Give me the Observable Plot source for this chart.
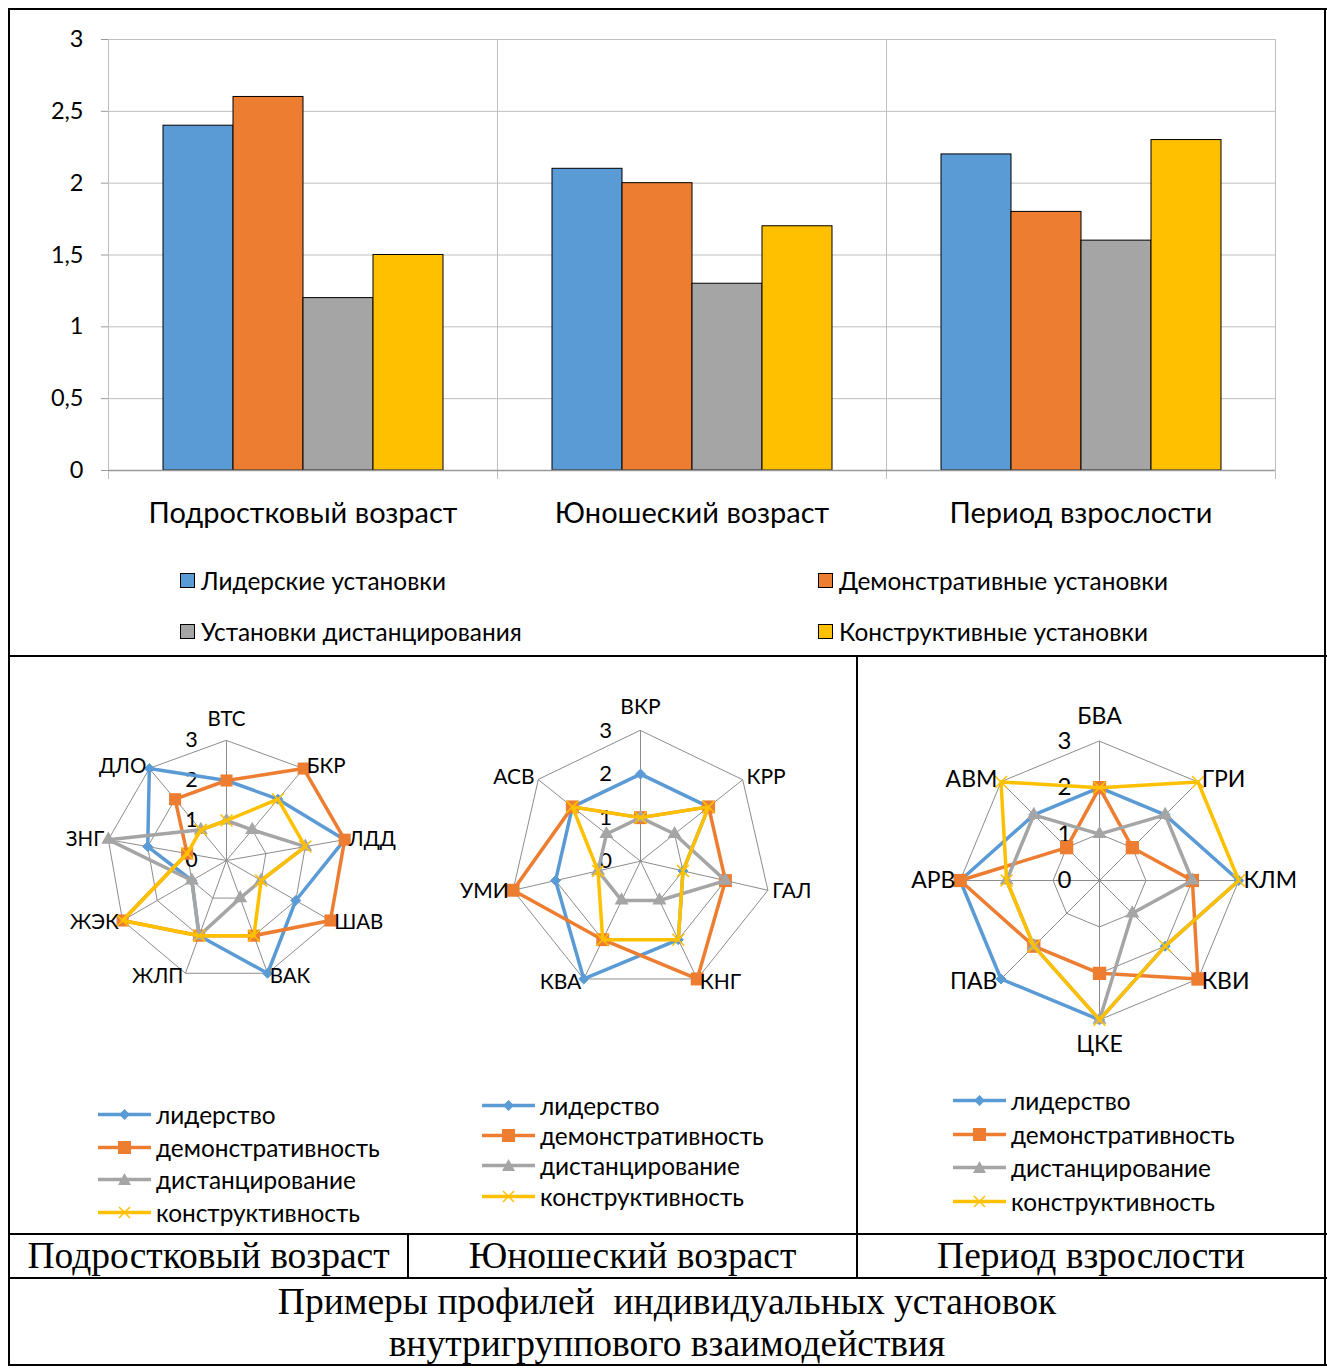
<!DOCTYPE html>
<html><head><meta charset="utf-8">
<script src="https://cdn.jsdelivr.net/npm/d3@7"></script>
<script src="https://cdn.jsdelivr.net/npm/@observablehq/plot@0.6"></script>
<style>
body{margin:0;background:#fff;}
#page{position:relative;width:1327px;height:1372px;background:#fff;font-family:Lato,"Open Sans",sans-serif;color:#000;overflow:hidden;}
.abs{position:absolute;}
.hl{position:absolute;height:2px;background:#000;}
.vl{position:absolute;width:2px;background:#000;}
.serif{font-family:"Liberation Serif","Times New Roman",serif;color:#000;}
.leg{position:absolute;display:flex;align-items:center;white-space:nowrap;}
</style></head>
<body><div id="page"></div>
<script>
// ---------- DATA ----------
const barGroups = ["Подростковый возраст", "Юношеский возраст", "Период взрослости"];
const barSeries = ["Лидерские установки", "Демонстративные установки", "Установки дистанцирования", "Конструктивные установки"];
const barLeader = [2.4, 2.1, 2.2];
const barDemo = [2.6, 2.0, 1.8];
const barDist = [1.2, 1.3, 1.6];
const barConstr = [1.5, 1.7, 2.3];
const barYTicks = [0, 0.5, 1, 1.5, 2, 2.5, 3];

const radarSeries = ["лидерство", "демонстративность", "дистанцирование", "конструктивность"];
const radarLevels = [1, 2, 3];
const radarTickLabels = [0, 1, 2, 3];

const teenAxes = ["ВТС", "БКР", "ЛДД", "ШАВ", "ВАК", "ЖЛП", "ЖЭК", "ЗНГ", "ДЛО"];
const teenLeader = [2, 2, 3, 2, 3, 2, 1, 2, 3];
const teenDemo   = [2, 3, 3, 3, 2, 2, 3, 1, 2];
const teenDist   = [1, 1, 2, 1, 1, 2, 1, 3, 1];
const teenConstr = [1, 2, 2, 1, 2, 2, 3, 1, 1];

const youthAxes = ["ВКР", "КРР", "ГАЛ", "КНГ", "КВА", "УМИ", "АСВ"];
const youthLeader = [2, 2, 1, 2, 3, 2, 2];
const youthDemo   = [1, 2, 2, 3, 2, 3, 2];
const youthDist   = [1, 1, 2, 1, 1, 1, 1];
const youthConstr = [1, 2, 1, 2, 2, 1, 2];

const adultAxes = ["БВА", "ГРИ", "КЛМ", "КВИ", "ЦКЕ", "ПАВ", "АРВ", "АВМ"];
const adultLeader = [2, 2, 3, 2, 3, 3, 3, 2];
const adultDemo   = [2, 1, 2, 3, 2, 2, 3, 1];
const adultDist   = [1, 2, 2, 1, 3, 2, 2, 2];
const adultConstr = [2, 3, 3, 2, 3, 2, 2, 3];

const periodLabels = ["Подростковый возраст", "Юношеский возраст", "Период взрослости"];
const captionLines = ["Примеры профилей  индивидуальных установок", "внутригруппового взаимодействия"];

// ---------- STYLE ----------
const colors = ["#5B9BD5", "#ED7D31", "#A5A5A5", "#FFC000"];
const page = document.getElementById("page");
function add(html){ const d = document.createElement("div"); d.innerHTML = html; const el = d.firstElementChild; page.appendChild(el); return el; }

// ---------- BAR CHART ----------
const barVals = [barLeader, barDemo, barDist, barConstr];
const barRows = [];
barGroups.forEach((g, gi) => barSeries.forEach((s, si) => barRows.push({group: g, series: s, value: barVals[si][gi]})));
const comma = d => String(d).replace(".", ",");

const bar = Plot.plot({
  width: 1316, height: 540,
  marginLeft: 98, marginRight: 50, marginTop: 31, marginBottom: 78,
  style: {fontFamily: "Lato, 'Open Sans', sans-serif", color: "#000", background: "#fff", overflow: "visible"},
  fx: {domain: barGroups, padding: 0, label: null},
  x: {domain: barSeries, paddingInner: 0, paddingOuter: 0.74, axis: null},
  y: {domain: [0, 3], label: null},
  color: {domain: barSeries, range: colors},
  marks: [
    Plot.gridY(barYTicks, {stroke: "#bfbfbf", strokeOpacity: 1}),
    Plot.frame({anchor: "left", stroke: "#bfbfbf", insetBottom: -8}),
    Plot.frame({anchor: "right", stroke: "#bfbfbf", insetBottom: -8}),
    Plot.barY(barRows, {fx: "group", x: "series", y: "value", fill: "series", stroke: "#000", strokeWidth: 1}),
    Plot.ruleY([0], {stroke: "#999", strokeWidth: 1.5}),
    Plot.axisY(barYTicks, {tickFormat: comma, tickSize: 7, tickPadding: 18, stroke: "#999", fontSize: 23.5, label: null}),
    Plot.axisFx({anchor: "bottom", tickSize: 0, tickPadding: 32, fontSize: 29, label: null})
  ]
});
bar.style.position = "absolute"; bar.style.left = "9px"; bar.style.top = "8px";
page.appendChild(bar);

// bar legend
const barLegPos = [[180, 580], [818, 580], [180, 631], [818, 631]];
barSeries.forEach((s, i) => {
  const [x, y] = barLegPos[i];
  add(`<div class="leg" style="left:${x}px;top:${y - 15}px;height:30px;font-size:24.4px;">
    <span style="display:inline-block;width:13px;height:13px;border:1px solid #000;background:${colors[i]};margin-right:6px;"></span>${s}</div>`);
});

// ---------- RADAR CHARTS ----------
const symbols = ["diamond2", "square", "triangle", "times"];
function radar(axes, vals, box) {
  const n = axes.length;
  const ang = i => 2 * Math.PI * i / n;
  const px = d => d.value * Math.sin(ang(d.i));
  const py = d => d.value * Math.cos(ang(d.i));
  const grid = radarLevels.flatMap(l => axes.map((a, i) => ({level: l, i, value: l})));
  const spokes = axes.map((a, i) => ({i, value: 3, name: a}));
  const labelPts = axes.map((a, i) => ({i, value: 3.08, name: a}));
  const R = box.R;
  const marks = [
    Plot.line(grid, {x: px, y: py, z: "level", curve: "linear-closed", stroke: "#8c8c8c", strokeWidth: 1}),
    Plot.link(spokes, {x1: 0, y1: 0, x2: px, y2: py, stroke: "#8c8c8c", strokeWidth: 1}),
    Plot.text(radarTickLabels, {x: 0, y: d => d, text: d => String(d), dx: -35, fontSize: box.fs + 1, fill: "#000"})
  ];
  radarSeries.forEach((s, k) => {
    const rows = vals[k].map((v, i) => ({series: s, i, value: v}));
    marks.push(Plot.line(rows, {x: px, y: py, curve: "linear-closed", stroke: colors[k], strokeWidth: 3.5}));
    if (k === 3) marks.push(Plot.dot(rows, {x: px, y: py, symbol: symbols[k], stroke: colors[k], strokeWidth: 1.5, r: 5.5}));
    else if (k === 0) marks.push(Plot.dot(rows, {x: px, y: py, symbol: symbols[k], fill: colors[k], stroke: colors[k], strokeWidth: 1, r: 4.5}));
    else marks.push(Plot.dot(rows, {x: px, y: py, symbol: symbols[k], fill: colors[k], r: k === 1 ? box.sq : 5.2}));
  });
  const eps = 1e-6;
  const top = labelPts.filter(d => d.i === 0);
  const bottom = labelPts.filter(d => Math.abs(ang(d.i) - Math.PI) < eps);
  const right = labelPts.filter(d => ang(d.i) > eps && ang(d.i) < Math.PI - eps);
  const left = labelPts.filter(d => ang(d.i) > Math.PI + eps);
  marks.push(Plot.text(top, {x: px, y: py, text: "name", dy: -box.off, fontSize: box.fs, textAnchor: "middle", fill: "#000"}));
  marks.push(Plot.text(bottom, {x: px, y: py, text: "name", dy: box.off, fontSize: box.fs, textAnchor: "middle", fill: "#000"}));
  marks.push(Plot.text(right, {x: px, y: py, text: "name", dx: 1, fontSize: box.fs, textAnchor: "start", fill: "#000"}));
  marks.push(Plot.text(left, {x: px, y: py, text: "name", dx: -1, fontSize: box.fs, textAnchor: "end", fill: "#000"}));
  const svg = Plot.plot({
    width: box.w, height: box.h, margin: 0,
    style: {fontFamily: "Lato, 'Open Sans', sans-serif", color: "#000", background: "transparent", overflow: "visible"},
    x: {domain: [-3, 3], range: [box.cx - R, box.cx + R], axis: null},
    y: {domain: [-3, 3], range: [box.cy + R, box.cy - R], axis: null},
    marks
  });
  svg.style.position = "absolute"; svg.style.left = box.left + "px"; svg.style.top = box.top + "px";
  page.appendChild(svg);
}
radar(teenAxes, [teenLeader, teenDemo, teenDist, teenConstr], {left: 11, top: 658, w: 396, h: 420, cx: 215, cy: 202, R: 120, fs: 20.5, off: 18, sq: 6.8});
radar(youthAxes, [youthLeader, youthDemo, youthDist, youthConstr], {left: 410, top: 658, w: 445, h: 420, cx: 230, cy: 202.7, R: 130.7, fs: 21, off: 20, sq: 7.3});
radar(adultAxes, [adultLeader, adultDemo, adultDist, adultConstr], {left: 859, top: 658, w: 464, h: 420, cx: 240, cy: 222, R: 139.3, fs: 23, off: 21, sq: 7.5});

// radar legends
function legendSwatch(k) {
  const c = colors[k];
  let m = "";
  if (k === 0) m = `<path d="M26.5,21 L32,26.5 L26.5,32 L21,26.5Z" fill="${c}"/>`;
  else if (k === 1) m = `<rect x="20" y="20" width="13" height="13" fill="${c}"/>`;
  else if (k === 2) m = `<path d="M26.5,20 L33,32 L20,32Z" fill="${c}"/>`;
  else m = `<path d="M21,21 L32,32 M32,21 L21,32" stroke="${c}" stroke-width="1.5"/>`;
  return `<svg width="54" height="53" style="margin:-20px 4px -20px 0;overflow:visible"><line x1="0" y1="26.5" x2="53" y2="26.5" stroke="${c}" stroke-width="3.5"/>${m}</svg>`;
}
const radarLegends = [
  {x: 98, ys: [1114, 1147, 1179, 1212]},
  {x: 482, ys: [1105, 1135, 1165, 1196]},
  {x: 953, ys: [1100, 1134, 1167, 1201]}
];
radarLegends.forEach(L => radarSeries.forEach((s, k) => {
  add(`<div class="leg" style="left:${L.x}px;top:${L.ys[k] - 15}px;height:30px;font-size:24.4px;">${legendSwatch(k)}${s}</div>`);
}));

// ---------- TABLE FRAME ----------
const lines = [
  ["h", 8, 8, 1319], ["h", 8, 655, 1319], ["h", 8, 1233, 1319], ["h", 8, 1277, 1319], ["h", 8, 1364, 1319],
  ["v", 8, 8, 1358], ["v", 1324, 8, 1358], ["v", 856, 655, 624], ["v", 407, 1233, 46]
];
lines.forEach(([t, x, y, len]) => {
  if (t === "h") add(`<div class="hl" style="left:${x}px;top:${y}px;width:${len}px;"></div>`);
  else add(`<div class="vl" style="left:${x}px;top:${y}px;height:${len}px;"></div>`);
});
const cells = [[9, 408], [408, 857], [857, 1325]];
periodLabels.forEach((t, i) => {
  const [a, b] = cells[i];
  add(`<div class="abs serif" style="left:${a}px;width:${b - a}px;top:1235px;height:42px;line-height:42px;text-align:center;font-size:37.5px;white-space:nowrap;">${t}</div>`);
});
captionLines.forEach((t, i) => {
  add(`<div class="abs serif" style="left:9px;width:1316px;top:${1281 + i * 42}px;height:42px;line-height:42px;text-align:center;font-size:37.5px;white-space:pre;">${t}</div>`);
});
</script></body></html>
